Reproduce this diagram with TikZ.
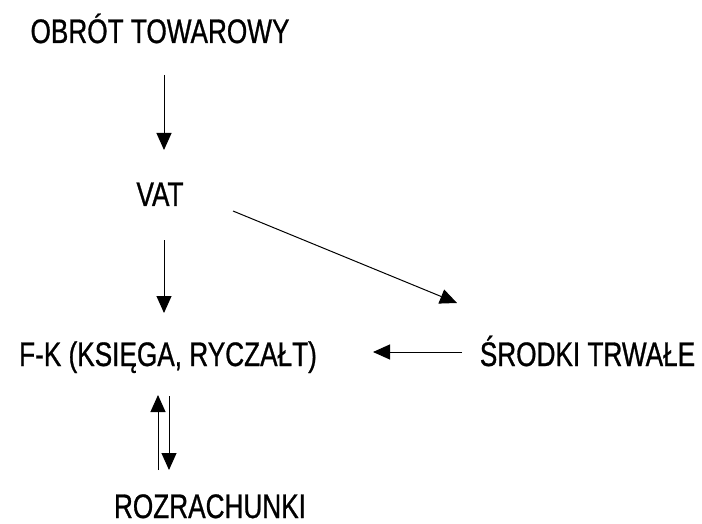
\documentclass[tikz,border=0pt]{standalone}
\usepackage{fontspec}
\setmainfont[FakeStretch=0.77,FakeBold=0.8]{Liberation Sans}
\usepackage{tikz}
\usetikzlibrary{arrows.meta}

\begin{document}
\begin{tikzpicture}[x=1pt,y=-1pt,
	label/.style={anchor=base,inner sep=0pt,font=\fontsize{34}{38}\selectfont},
	arr/.style={line width=1pt,-{Triangle[width=15pt,length=17pt]}}]
	\useasboundingbox (0,0) rectangle (702,524);
	\node[label] (obrot) at (160,43) {OBRÓT TOWAROWY};
	\node[label] (vat) at (160,206) {VAT};
	\node[label] (fk) at (168,366) {F-K (KSIĘGA, RYCZAŁT)};
	\node[label] (srodki) at (587.5,366) {ŚRODKI TRWAŁE};
	\node[label] (rozr) at (210,518) {ROZRACHUNKI};
%	arrows
	\draw[arr] ([xshift=4pt,yshift=-32pt]obrot.base) -- ([xshift=4pt,yshift=56pt]vat.base);
	\draw[arr] ([xshift=4pt,yshift=-34pt]vat.base) -- ([xshift=-4pt,yshift=53pt]fk.base);
	\draw[arr] ([xshift=73pt,yshift=-5pt]vat.base) -- ([xshift=-130.5pt,yshift=63pt]srodki.base);
	\draw[arr] ([xshift=-125.5pt,yshift=14pt]srodki.base) -- ([xshift=205pt,yshift=14pt]fk.base);
	\draw[arr] ([xshift=-52pt,yshift=48pt]rozr.base) -- ([xshift=-10pt,yshift=-29pt]fk.base);
	\draw[arr] ([xshift=1pt,yshift=-30pt]fk.base) -- ([xshift=-41pt,yshift=48pt]rozr.base);
\end{tikzpicture}
\end{document}
